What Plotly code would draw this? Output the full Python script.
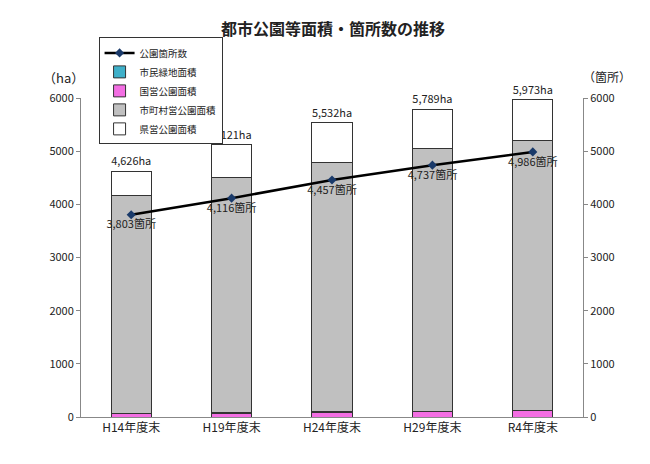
import plotly.graph_objects as go

cats = ["H14年度末", "H19年度末", "H24年度末", "H29年度末", "R4年度末"]
total = [4626, 5121, 5532, 5789, 5973]
national = [60, 75, 90, 100, 120]
shimin = [5, 5, 5, 5, 5]
municipal = [4100, 4420, 4700, 4950, 5080]
prefectural = [t - n - s - m for t, n, s, m in zip(total, national, shimin, municipal)]
counts = [3803, 4116, 4457, 4737, 4986]
total_labels = ["4,626ha", "5,121ha", "5,532ha", "5,789ha", "5,973ha"]
count_labels = ["3,803箇所", "4,116箇所", "4,457箇所", "4,737箇所", "4,986箇所"]

F = "Noto Sans CJK JP"
fig = go.Figure()
line = dict(color="#333", width=1)
fig.add_bar(x=cats, y=national, name="国営公園面積", legendrank=3, marker=dict(color="#f36ee3", line=line), width=0.4)
fig.add_bar(x=cats, y=shimin, name="市民緑地面積", legendrank=4, marker=dict(color="#3fb0c9", line=line), width=0.4)
fig.add_bar(x=cats, y=municipal, name="市町村営公園面積", legendrank=2, marker=dict(color="#c0c0c0", line=line), width=0.4)
fig.add_bar(x=cats, y=prefectural, name="県営公園面積", legendrank=1, marker=dict(color="white", line=line), width=0.4,
            text=total_labels, textposition="outside", textfont=dict(size=12, color="#222"),
            cliponaxis=False)
fig.add_scatter(x=cats, y=counts, name="公園箇所数", legendrank=5, yaxis="y2", mode="lines+markers+text",
                line=dict(color="black", width=2.5),
                marker=dict(symbol="diamond", size=7, color="#1a3a6a"),
                text=count_labels, textposition="bottom center", textfont=dict(size=11, color="#222"))

fig.update_layout(
    width=650, height=464, barmode="stack", plot_bgcolor="white", paper_bgcolor="white",
    font=dict(family=F, size=11, color="#222"),
    title=dict(text="<b>都市公園等面積・箇所数の推移</b>", x=0.5, y=0.965, xanchor="center",
               font=dict(size=16, family=F, color="#222")),
    margin=dict(l=73, r=75, t=90, b=55),
    showlegend=True,
    legend=dict(x=0.035, y=1.19, xanchor="left", yanchor="top",
                bordercolor="#333", borderwidth=1, bgcolor="white",
                font=dict(size=9.5), tracegroupgap=0, itemwidth=30),
    xaxis=dict(showline=True, linecolor="#888", ticks="", tickfont=dict(size=12)),
    yaxis=dict(range=[0, 6000], dtick=1000, showline=True, linecolor="#888", showgrid=False,
               ticks="outside", ticklen=4, tickcolor="#888", tickfont=dict(size=11)),
    yaxis2=dict(range=[0, 6000], dtick=1000, overlaying="y", side="right", showline=True,
                linecolor="#888", showgrid=False, ticks="outside", ticklen=4, tickcolor="#888",
                tickfont=dict(size=11)),
)
fig.layout.annotations = [
    dict(text="（ha）", x=-0.08, y=1.1, xref="paper", yref="paper", showarrow=False,
         font=dict(size=13)),
    dict(text="（箇所）", x=1.1, y=1.1, xref="paper", yref="paper", showarrow=False,
         font=dict(size=12)),
]
fig.write_html("out.html")
